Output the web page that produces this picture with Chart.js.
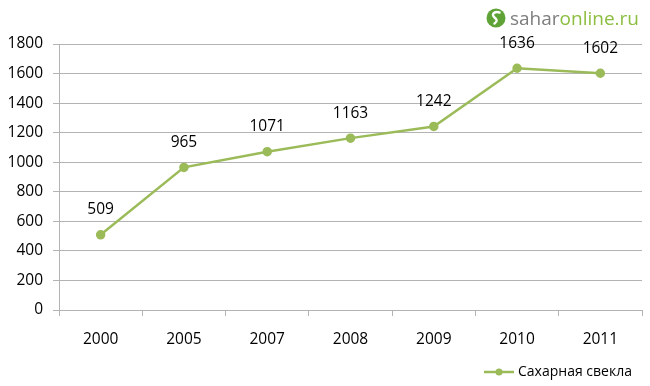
<!DOCTYPE html>
<html>
<head>
<meta charset="utf-8">
<script src="https://cdn.jsdelivr.net/npm/chart.js@4/dist/chart.umd.min.js"></script>
<style>
  html, body { margin: 0; padding: 0; background: #fff; }
  #wrap { position: relative; width: 650px; height: 386px; }
  #logo { position: absolute; left: 486px; top: 5px; font-family: "Open Sans", sans-serif; font-size: 19px; color: #7d7d7d; display: flex; align-items: center; }
  #logo .g { color: #8cbe3f; }
  #logo svg { margin-right: 4px; }
</style>
</head>
<body>
<div id="wrap">
  <canvas id="chart" width="650" height="386"></canvas>
  <div id="logo">
    <svg width="20" height="20" viewBox="0 0 20 20">
      <circle cx="10" cy="10" r="9.5" fill="#5fa336"/>
      <path d="M13.5 4.5 C9 3 5 6 8 9 C11 11.5 12 13 8.5 15.5" stroke="#fff" stroke-width="2.4" fill="none" stroke-linecap="round"/>
    </svg>
    <span>sahar</span><span class="g">online.ru</span>
  </div>
</div>
<script>
  // data
  const years = ["2000", "2005", "2007", "2008", "2009", "2010", "2011"]
  const beetValues = [509, 965, 1071, 1163, 1242, 1636, 1602]
  const seriesName = "Сахарная свекла"
  const lineColor = "#9bbb59"
  const font = "'Open Sans', 'DejaVu Sans', sans-serif"

  // value labels above points
  const valueLabels = {
    id: "valueLabels",
    afterDatasetsDraw(chart) {
      const ctx = chart.ctx
      const meta = chart.getDatasetMeta(0)
      ctx.save()
      ctx.font = "15.5px " + font
      ctx.fillStyle = "#000"
      ctx.textAlign = "center"
      ctx.textBaseline = "middle"
      meta.data.forEach((pt, i) => {
        ctx.fillText(String(beetValues[i]), pt.x, pt.y - 25)
      })
      ctx.restore()
    },
  }

  // legend at bottom right
  const legendLine = {
    id: "legendLine",
    afterDraw(chart) {
      const ctx = chart.ctx
      const y = 372
      ctx.save()
      ctx.strokeStyle = lineColor
      ctx.lineWidth = 2.5
      ctx.beginPath()
      ctx.moveTo(484, y)
      ctx.lineTo(514, y)
      ctx.stroke()
      ctx.fillStyle = lineColor
      ctx.beginPath()
      ctx.arc(499, y, 3.5, 0, Math.PI * 2)
      ctx.fill()
      ctx.font = "14px " + font
      ctx.fillStyle = "#000"
      ctx.textBaseline = "middle"
      ctx.fillText(seriesName, 518, y)
      ctx.restore()
    },
  }

  new Chart(document.getElementById("chart"), {
    type: "line",
    data: {
      labels: years,
      datasets: [
        {
          label: seriesName,
          data: beetValues,
          borderColor: lineColor,
          backgroundColor: lineColor,
          borderWidth: 2.5,
          pointRadius: 3.5,
          pointHoverRadius: 3.5,
          tension: 0,
        },
      ],
    },
    options: {
      responsive: false,
      animation: false,
      layout: { padding: { top: 44, right: 8, left: 0, bottom: 0 } },
      plugins: {
        legend: { display: false },
        tooltip: { enabled: false },
      },
      scales: {
        x: {
          offset: true,
          grid: {
            offset: true,
            drawOnChartArea: false,
            drawTicks: true,
            tickLength: 6,
            color: "#b3b3b3",
          },
          border: { color: "#b3b3b3", width: 1 },
          ticks: { color: "#000", font: { family: font, size: 15.5 }, padding: 14 },
          afterFit(axis) { axis.height = 76 },
        },
        y: {
          min: 0,
          max: 1800,
          grid: { color: "#b3b3b3", tickLength: 6 },
          border: { color: "#b3b3b3", width: 1 },
          ticks: {
            stepSize: 200,
            color: "#000",
            font: { family: font, size: 15.5 },
            padding: 10,
            callback: (v) => String(v),
          },
          afterFit(axis) { axis.width = 59 },
        },
      },
    },
    plugins: [valueLabels, legendLine],
  })
</script>
</body>
</html>
